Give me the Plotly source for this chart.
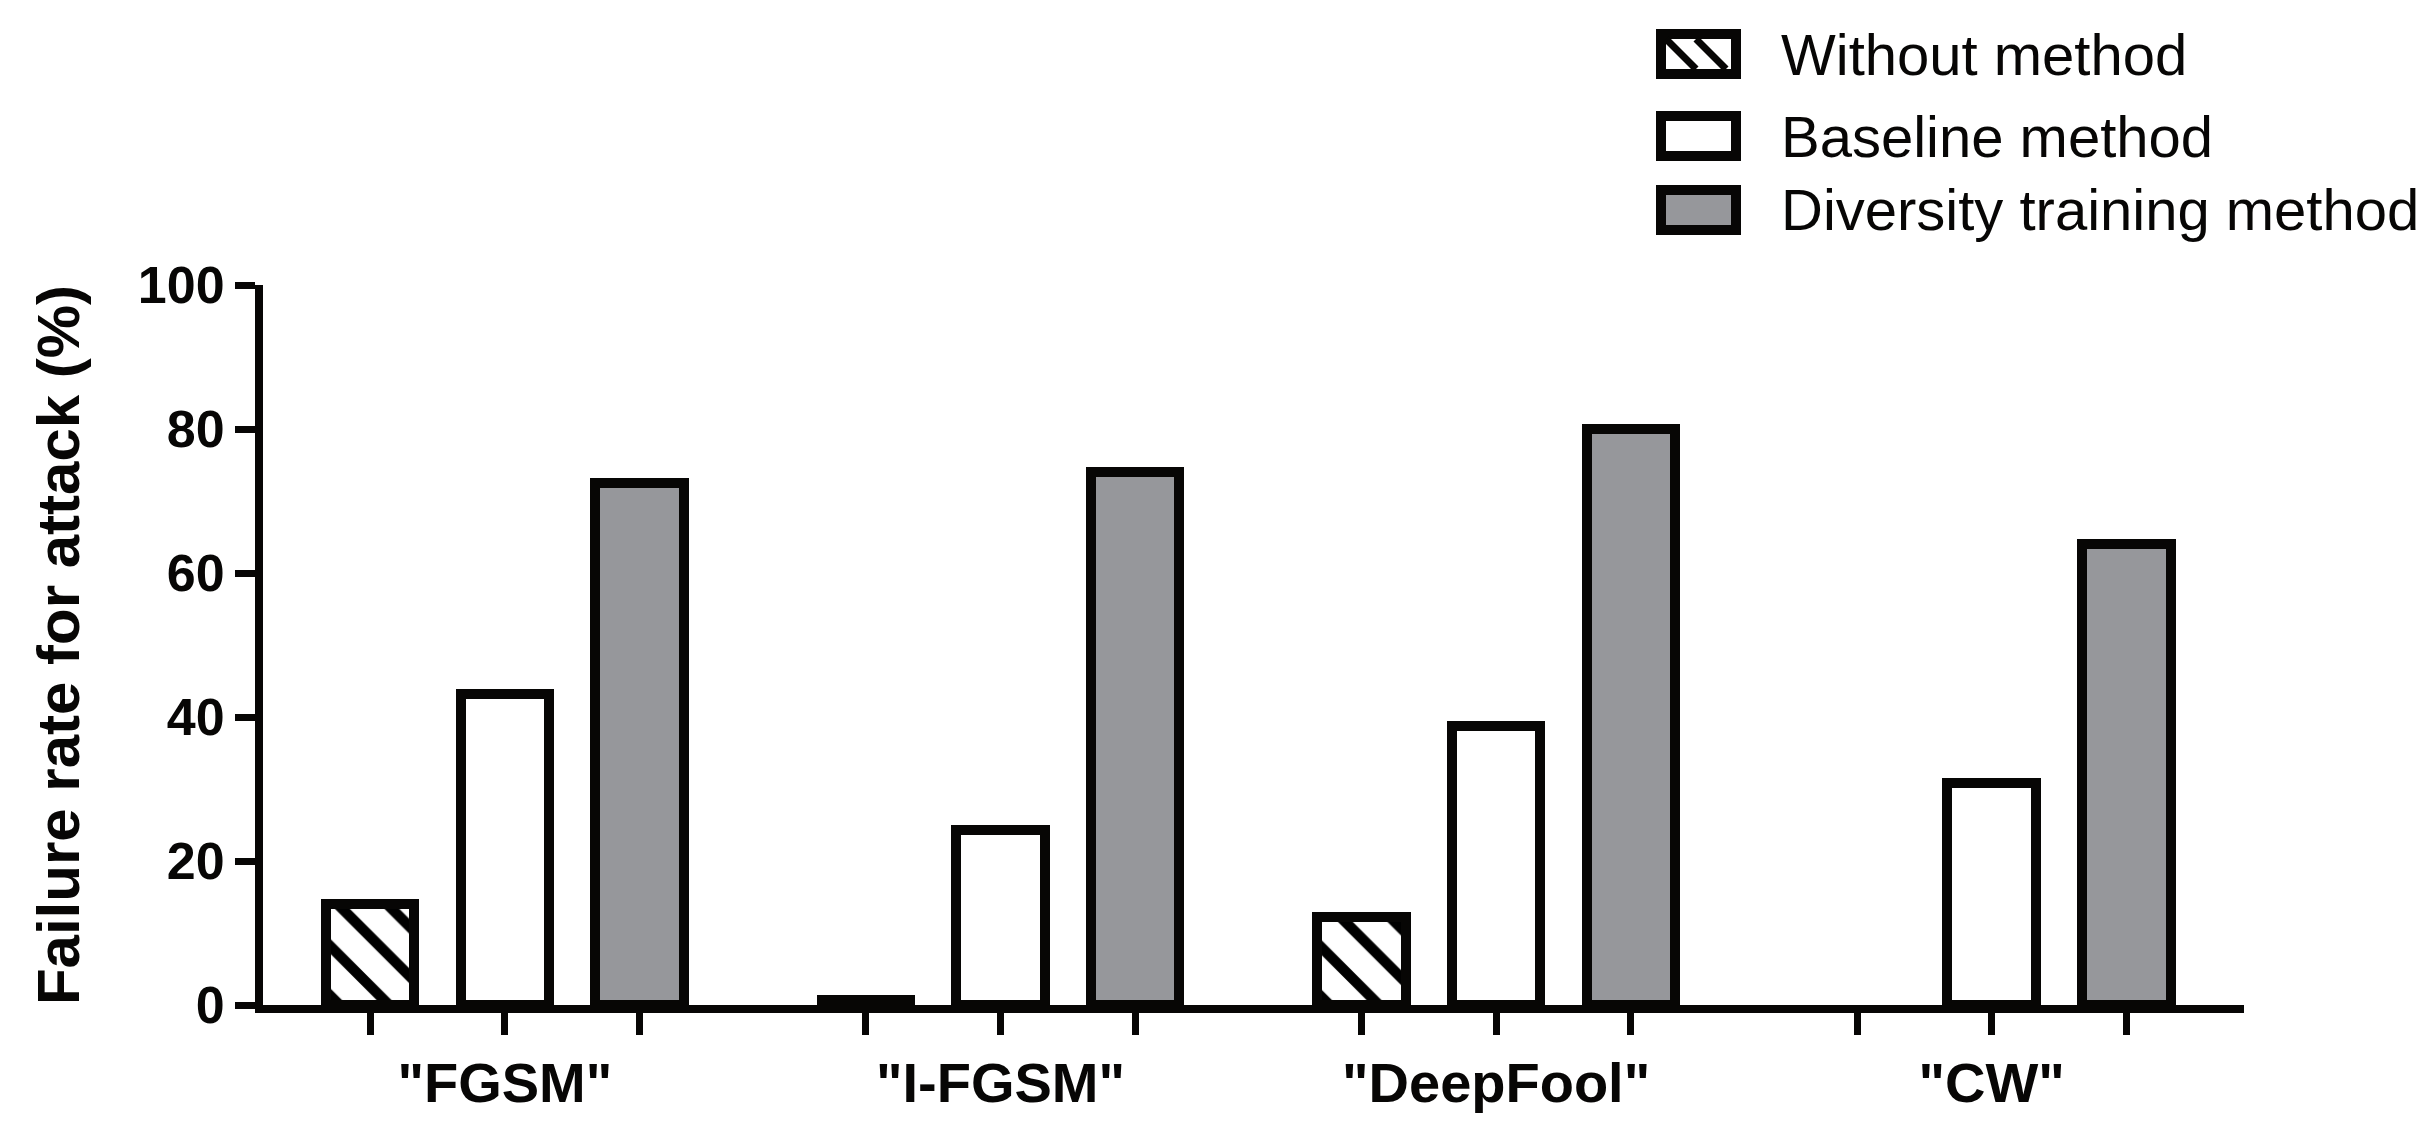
import plotly.graph_objects as go

# ---------------- data ----------------
categories = ['"FGSM"', '"I-FGSM"', '"DeepFool"', '"CW"']
series_names = ["Without method", "Baseline method", "Diversity training method"]
without_method = [14.0, 0.7, 12.2, 0.0]
baseline_method = [43.2, 24.3, 38.8, 30.8]
diversity_method = [72.5, 74.0, 80.0, 64.0]
y_ticks = [0, 20, 40, 60, 80, 100]

# ---------------- layout constants (figure px; page body adds an 8px margin) ----------------
FIG_W, FIG_H = 2417, 1105
L, R_PX, T, B_PX = 255, 2236, 277, 997
PW, PH = R_PX - L, B_PX - T
FONT = "Liberation Sans, Arial, sans-serif"
BLACK = "#070605"
GREY = "#96979b"

OFFSET = 0.2718   # distance between bars inside a group (group spacing = 1)
BAR_W = 0.1786
OUTLINE = 10

values = [without_method, baseline_method, diversity_method]
fills = ["white", "white", GREY]
patterns = [dict(shape="\\", fgcolor="#000000", bgcolor="white", fgopacity=1,
                 fillmode="replace", size=35, solidity=0.3),
            None, None]

fig = go.Figure()
for k, (name, vals) in enumerate(zip(series_names, values)):
    xs = [g + (k - 1) * OFFSET for g in range(len(categories))]
    marker = dict(color=fills[k],
                  line=dict(color=BLACK, width=[OUTLINE if v > 0 else 0 for v in vals]))
    if patterns[k]:
        marker["pattern"] = patterns[k]
    fig.add_trace(go.Bar(x=xs, y=vals, name=name, width=BAR_W, marker=marker,
                         showlegend=False))

tickvals, ticktext = [], []
for g, c in enumerate(categories):
    for k in range(3):
        tickvals.append(g + (k - 1) * OFFSET)
        ticktext.append(c if k == 1 else "")

fig.update_layout(
    width=FIG_W, height=FIG_H,
    margin=dict(l=L, r=FIG_W - R_PX, t=T, b=FIG_H - B_PX, autoexpand=False),
    paper_bgcolor="white", plot_bgcolor="white",
    font=dict(family=FONT, color=BLACK),
    bargap=0,
)
fig.update_xaxes(
    range=[-0.488, 3.509], tickvals=tickvals, ticktext=ticktext,
    showline=True, linecolor=BLACK, linewidth=8,
    ticks="outside", ticklen=22, tickwidth=7, tickcolor=BLACK,
    tickfont=dict(size=56, family=FONT, weight="bold", color=BLACK),
    showgrid=False, zeroline=False, automargin=False,
)
fig.update_yaxes(
    range=[0, 100], tickvals=y_ticks,
    showline=True, linecolor=BLACK, linewidth=8,
    ticks="outside", ticklen=20, tickwidth=7, tickcolor=BLACK,
    tickfont=dict(size=52, family=FONT, weight="bold", color=BLACK),
    title=dict(text="Failure rate for attack (%)", standoff=42,
               font=dict(size=60, family=FONT, weight="bold", color=BLACK)),
    showgrid=False, zeroline=False, automargin=False,
)

# ---------------- custom legend ----------------
def px_x(x):
    return (x - L) / PW

def px_y(y):
    return (B_PX - y) / PH

legend_rows = [46, 128, 202]
sw_x0, sw_x1 = 1653, 1728
sw_half_h = 20
shapes = []
annotations = []
for i, (name, yc) in enumerate(zip(series_names, legend_rows)):
    y0, y1 = yc - sw_half_h, yc + sw_half_h
    shapes.append(dict(type="rect", xref="paper", yref="paper",
                       x0=px_x(sw_x0), x1=px_x(sw_x1), y0=px_y(y1), y1=px_y(y0),
                       fillcolor=fills[i], line=dict(color=BLACK, width=10),
                       layer="above"))
    if i == 0:
        for sx in (sw_x0 + 5, sw_x0 + 35):
            shapes.append(dict(type="line", xref="paper", yref="paper",
                               x0=px_x(sx), y0=px_y(y0 + 5),
                               x1=px_x(sx + 30), y1=px_y(y1 - 5),
                               line=dict(color=BLACK, width=7), layer="above"))
    annotations.append(dict(text=name, xref="paper", yref="paper",
                            x=px_x(1771), y=px_y(yc), xanchor="left", yanchor="middle",
                            showarrow=False,
                            font=dict(size=58, family=FONT, color=BLACK)))
fig.update_layout(shapes=shapes, annotations=annotations)

fig.write_html("out.html")
